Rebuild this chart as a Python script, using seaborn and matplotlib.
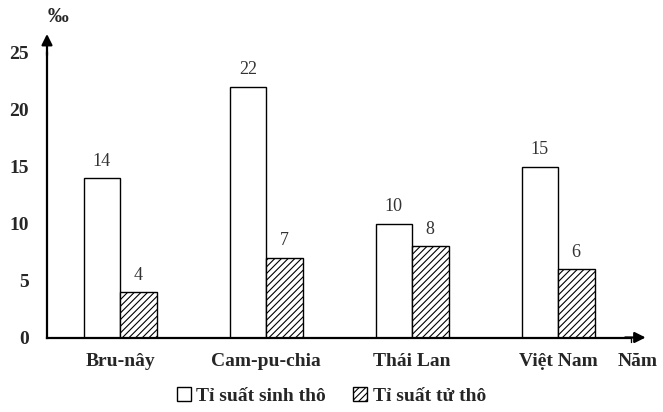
import numpy as np
import pandas as pd
import matplotlib
matplotlib.use("Agg")
import matplotlib.pyplot as plt
import seaborn as sns
from matplotlib.patches import Patch

countries = ["Bru-nây", "Cam-pu-chia", "Thái Lan", "Việt Nam"]
sinh_tho = [14, 22, 10, 15]
tu_tho = [4, 7, 8, 6]
series = ["Tỉ suất sinh thô", "Tỉ suất tử thô"]

df = pd.DataFrame({
    "Quốc gia": countries * 2,
    "Giá trị": sinh_tho + tu_tho,
    "Chỉ số": [series[0]] * 4 + [series[1]] * 4,
})

sns.set_style("white")
plt.rcParams["font.family"] = ["Liberation Serif", "DejaVu Serif"]
plt.rcParams["hatch.linewidth"] = 0.8

fig = plt.figure(figsize=(6.63, 4.12), dpi=100)
ax = fig.add_axes([47 / 663, (412 - 337.5) / 412, 584 / 663, 285 / 412])

sns.barplot(data=df, x="Quốc gia", y="Giá trị", hue="Chỉ số", hue_order=series,
            palette=["white", "white"], width=0.5, dodge=True,
            edgecolor="black", linewidth=1.0, legend=False, ax=ax)

n = len(countries)
for i, p in enumerate(ax.patches[:2 * n]):
    if i >= n:
        p.set_hatch("/////")
    val = p.get_height()
    ax.annotate(f"{val:g}", (p.get_x() + p.get_width() / 2, val),
                xytext=(0, 6), textcoords="offset points", ha="center", va="bottom",
                fontsize=13, color="#333333")

ax.set_xlim(-0.5, 3.5)
ax.set_ylim(0, 25)
ax.set_yticks([0, 5, 10, 15, 20, 25])
ax.set_xticks(range(n))
ax.set_xticklabels(countries, fontsize=14, fontweight="bold")
ax.set_yticklabels([0, 5, 10, 15, 20, 25], fontsize=14, fontweight="bold")
ax.set_xlabel("")
ax.set_ylabel("")
ax.tick_params(axis="both", direction="out", length=5, width=1, color="black", pad=8)
ax.tick_params(axis="x", length=4, pad=7)

for s in ["top", "right"]:
    ax.spines[s].set_visible(False)
for s in ["left", "bottom"]:
    ax.spines[s].set_linewidth(1.6)
    ax.spines[s].set_color("black")

# mũi tên trục
ax.annotate("", xy=(0, 1.065), xytext=(0, 0.99), xycoords="axes fraction",
            arrowprops=dict(arrowstyle="-|>", lw=1.6, color="black", mutation_scale=16,
                            shrinkA=0, shrinkB=0))
ax.annotate("", xy=(1.025, 0), xytext=(0.99, 0), xycoords="axes fraction",
            arrowprops=dict(arrowstyle="-|>", lw=1.6, color="black", mutation_scale=16,
                            shrinkA=0, shrinkB=0))
ax.plot([1, 1], [0, -0.015], transform=ax.transAxes, color="black", lw=1, clip_on=False)

fig.text(58 / 663, 1 - 17 / 412, "‰", fontsize=15, fontweight="bold", ha="center", va="center")
fig.text(638 / 663, 1 - 362 / 412, "Năm", fontsize=14, fontweight="bold", ha="center", va="center")

handles = [Patch(facecolor="white", edgecolor="black", linewidth=1.0),
           Patch(facecolor="white", edgecolor="black", hatch="/////", linewidth=1.0)]
fig.legend(handles, series, loc="center", bbox_to_anchor=(0.5, 1 - 396 / 412), ncol=2,
           frameon=False, prop={"size": 14, "weight": "bold"}, handlelength=0.7,
           handleheight=0.7, handletextpad=0.3, columnspacing=1.4)

fig.savefig("out.png", dpi=100)
